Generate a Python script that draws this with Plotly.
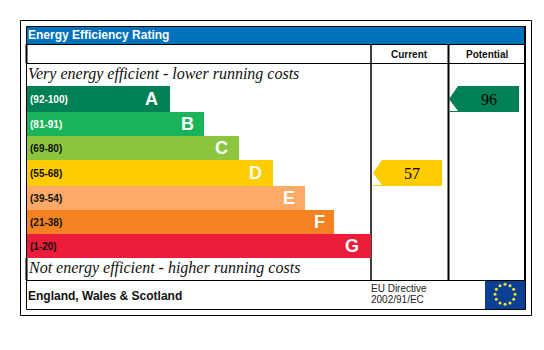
import math
import plotly.graph_objects as go

# --- data ---
title = "Energy Efficiency Rating"
letters = ["A", "B", "C", "D", "E", "F", "G"]
ranges = ["(92-100)", "(81-91)", "(69-80)", "(55-68)", "(39-54)", "(21-38)", "(1-20)"]
band_low = [92, 81, 69, 55, 39, 21, 1]
band_len = [143, 177, 212, 246, 278, 307, 344]
colors = ["#008054", "#19B459", "#8CC63F", "#FFCC00", "#FCAA65", "#F58220", "#ED1C3A"]
range_colors = ["white", "white", "#111", "#111", "#111", "#111", "#111"]
current_score = 57
potential_score = 96
top_text = "Very energy efficient - lower running costs"
bottom_text = "Not energy efficient - higher running costs"
footer = "England, Wales & Scotland"
directive = ["EU Directive", "2002/91/EC"]

# --- layout constants (pixels) ---
W, H = 544, 350
LEFT = 27
edges = [86, 112, 136, 160, 186, 210, 234, 258]
letter_inset = [19, 17, 18, 18, 16, 15, 19]
SANS = "Liberation Sans, Arial, sans-serif"
SERIF = "Liberation Serif, Times New Roman, serif"

fig = go.Figure()


def line(x0, y0, x1, y1, w=1.0, c="black"):
    fig.add_shape(type="line", x0=x0, y0=y0, x1=x1, y1=y1, line=dict(color=c, width=w), layer="below")


def label(x, y, text, size, color="black", family=SANS, bold=False, italic=False, anchor="left"):
    if bold:
        text = f"<b>{text}</b>"
    if italic:
        text = f"<i>{text}</i>"
    fig.add_annotation(x=x, y=y, text=text, showarrow=False, xanchor=anchor, yanchor="middle",
                       font=dict(size=size, color=color, family=family), borderpad=0, borderwidth=0,
                       align="left")


# frames
fig.add_shape(type="rect", x0=20.5, y0=20.5, x1=531.5, y1=315.5, line=dict(color="black", width=1), layer="below")
fig.add_shape(type="rect", x0=26.5, y0=26.5, x1=525.5, y1=309.5, line=dict(color="black", width=1), layer="below")
fig.add_shape(type="rect", x0=27, y0=27, x1=525, y1=44, fillcolor="#0072BC", line=dict(width=0), layer="below")
line(26, 44.5, 526, 44.5)
line(27, 63.5, 525, 63.5)
line(26, 280.5, 526, 280.5)
line(26.5, 44, 26.5, 63, 2)
line(26.5, 258, 26.5, 280, 2)
line(371, 44, 371, 280, 1.5)
line(448.5, 44, 448.5, 280, 2)
line(525, 26, 525, 281, 2)

# bands
centers = [(edges[i] + edges[i + 1]) / 2 for i in range(7)]
heights = [edges[i + 1] - edges[i] for i in range(7)]
fig.add_trace(go.Bar(orientation="h", x=band_len, y=centers, base=LEFT, width=heights, opacity=1,
                     marker=dict(color=colors, line=dict(width=0), opacity=1), hoverinfo="skip"))
for i in range(7):
    label(30, centers[i], ranges[i], 10, range_colors[i], bold=True)
    label(LEFT + band_len[i] - letter_inset[i], centers[i], letters[i], 18, "white", bold=True, anchor="center")


# pointers
def pointer(score, x_left, x_right, text_x):
    i = next(k for k, low in enumerate(band_low) if score >= low)
    top, bot = edges[i], edges[i + 1]
    mid, sh = (top + bot) / 2, x_left + 9
    fig.add_trace(go.Scatter(x=[x_left, sh, x_right, x_right, x_left, x_left, sh, x_left],
                             y=[mid, top, top, bot, bot, bot - 1, bot - 1, mid],
                             mode="lines", fill="toself", fillcolor=colors[i],
                             line=dict(width=0), hoverinfo="skip"))
    label(text_x, mid, str(score), 16, "black", family=SERIF, anchor="center")


pointer(current_score, 373, 442, 412)
pointer(potential_score, 449, 519, 489)

# texts
label(27.5, 35, title, 12, "white", bold=True)
label(409, 54.5, "Current", 10, "#111", bold=True, anchor="center")
label(486.5, 54.5, "Potential", 10, "#111", bold=True, anchor="center")
label(28, 74, top_text, 16, "#111", family=SERIF, italic=True)
label(28, 268, bottom_text, 16, "#111", family=SERIF, italic=True)
label(27.5, 296, footer, 12, "#111", bold=True)
label(371, 288, directive[0], 10, "#222")
label(371, 299, directive[1], 10, "#222")

# EU flag
fig.add_shape(type="rect", x0=485, y0=281, x1=525, y1=309, fillcolor="#0B3F94", line=dict(width=0), layer="below")
a = [2 * math.pi * k / 12 for k in range(12)]
fig.add_trace(go.Scatter(x=[505 + 10 * math.cos(t) for t in a], y=[294.3 + 10 * math.sin(t) for t in a],
                         mode="markers", marker=dict(symbol="circle", size=3, color="#F2E32B", line=dict(width=0)),
                         hoverinfo="skip"))

fig.update_layout(width=W, height=H, margin=dict(l=0, r=0, t=0, b=0), paper_bgcolor="white", plot_bgcolor="white",
                  showlegend=False, bargap=0,
                  xaxis=dict(range=[0, W], visible=False, fixedrange=True),
                  yaxis=dict(range=[H, 0], visible=False, fixedrange=True))
fig.write_html("out.html", config=dict(displayModeBar=False),
               post_script="document.body.style.margin='0';")
